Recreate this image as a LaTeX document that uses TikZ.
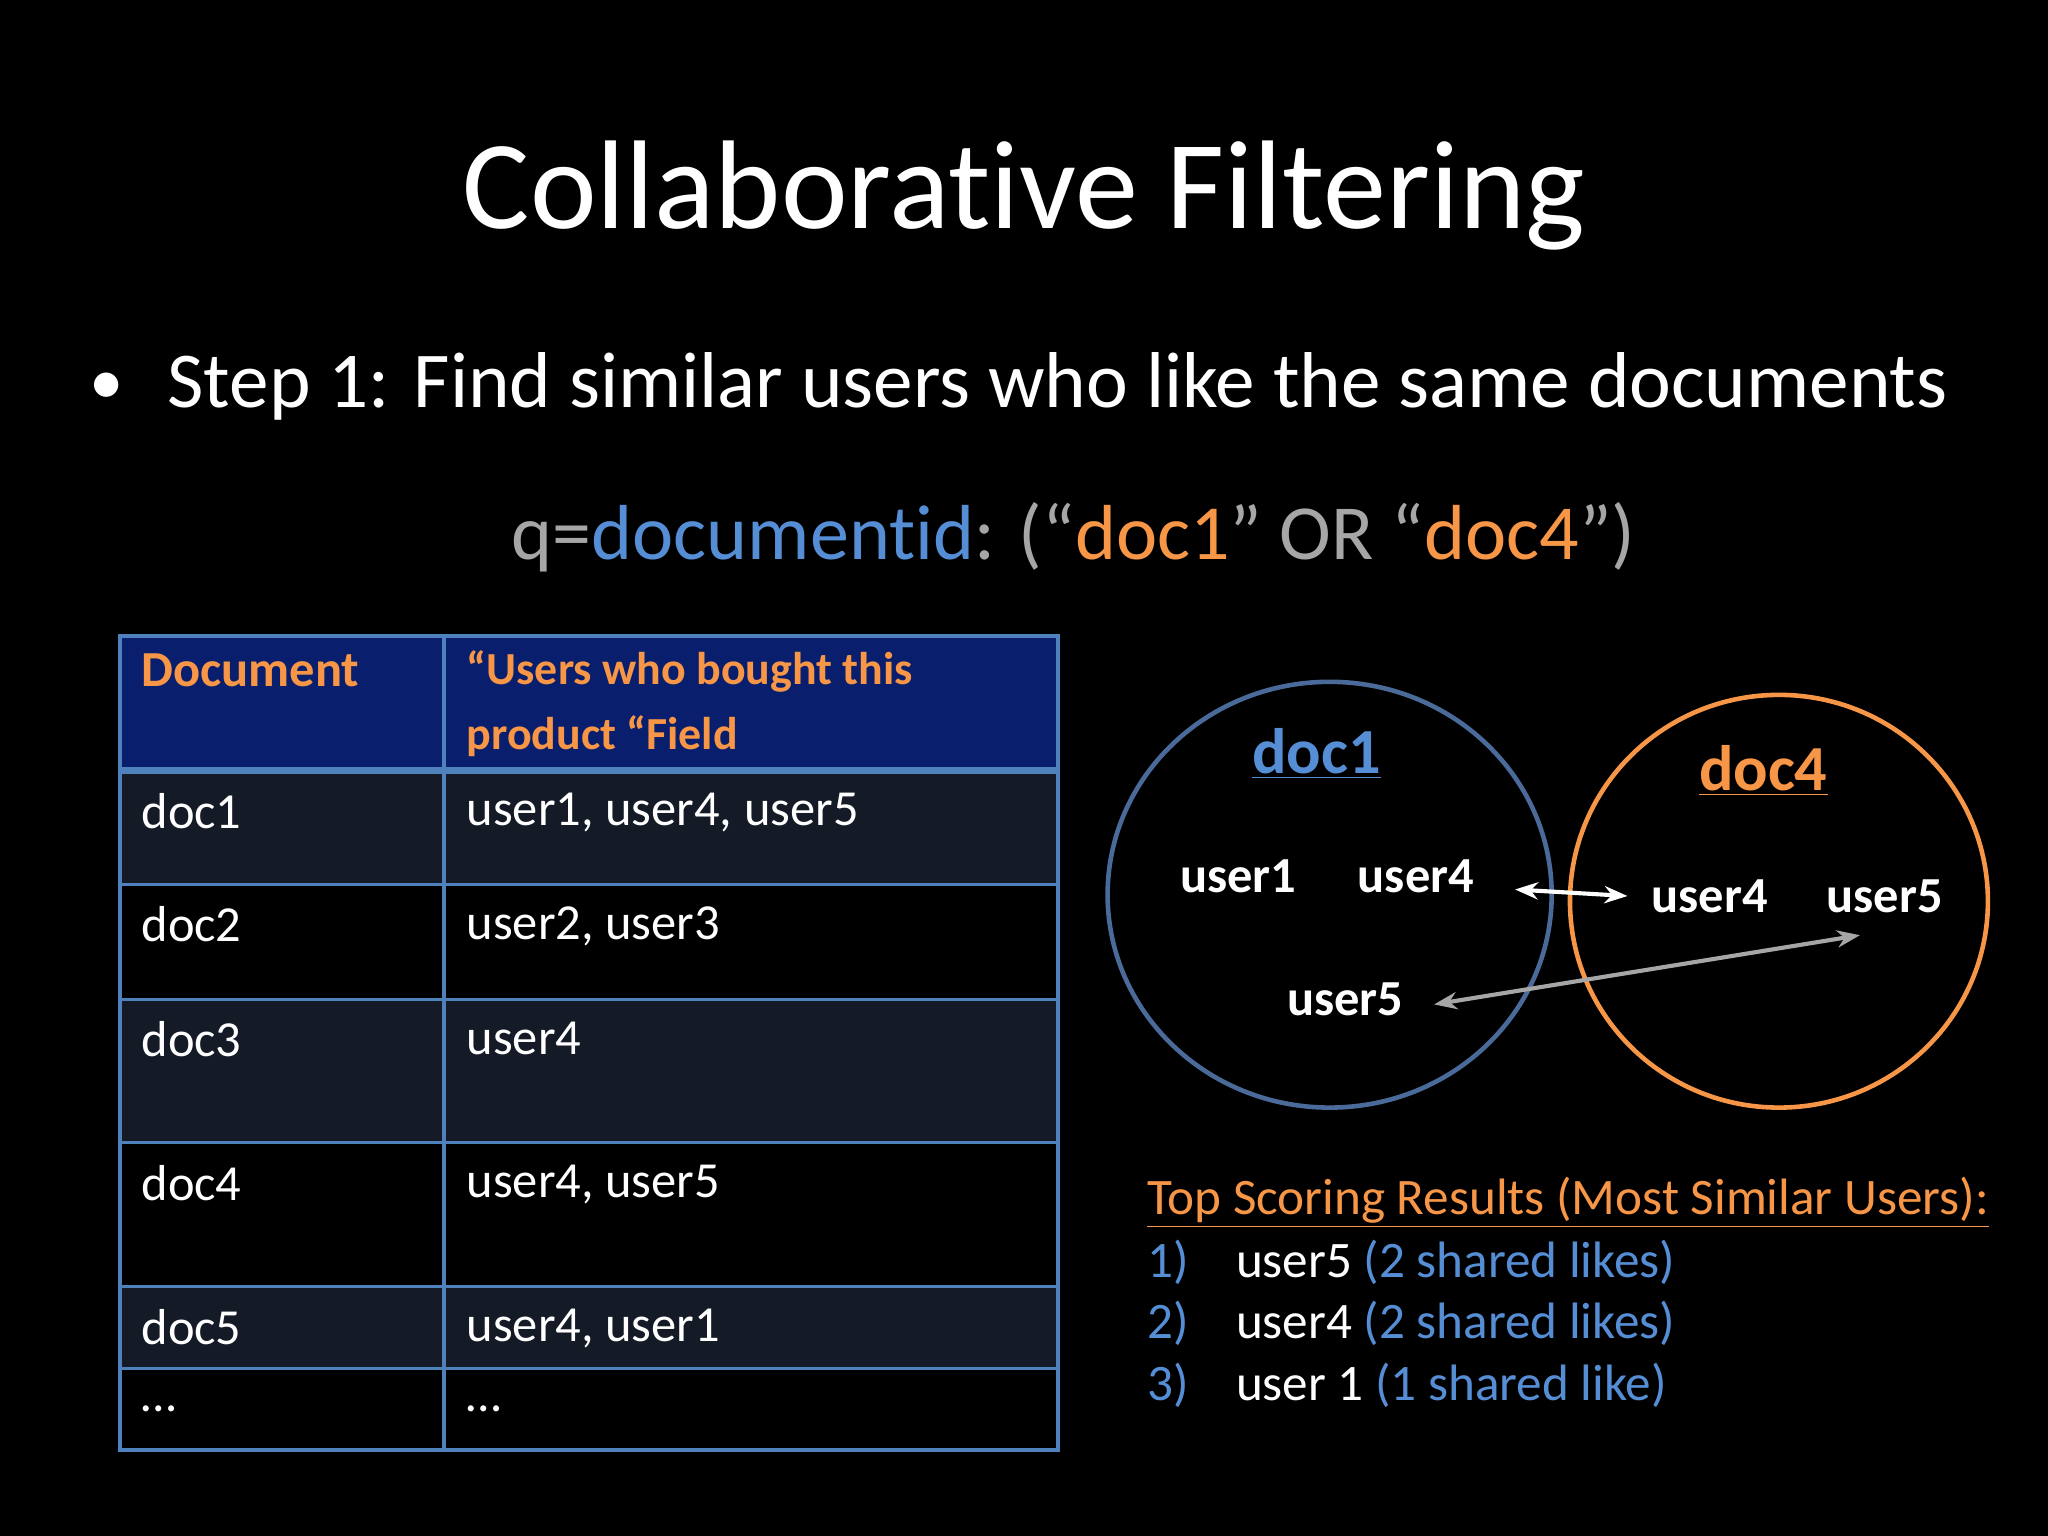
\documentclass[tikz,border=0pt]{standalone}
\usepackage{fontspec}
\setmainfont{Carlito}[Ligatures={NoCommon}]
\usetikzlibrary{arrows.meta}
\definecolor{qgray}{HTML}{A6A6A6}
\definecolor{qblue}{HTML}{558ED5}
\definecolor{qorange}{HTML}{F79646}
\definecolor{tline}{HTML}{4F81BD}
\definecolor{thead}{HTML}{0A1E6E}
\definecolor{tdark}{HTML}{141B27}
\definecolor{cblue}{HTML}{4A6A9A}
\tikzset{
  cell/.style={anchor=north west,text=white,font=\fontsize{22}{26}\selectfont,inner sep=0pt},
  hcell/.style={anchor=north west,text=qorange,font=\fontsize{20}{28}\selectfont\bfseries,inner sep=0pt,align=left},
  usr/.style={text=white,font=\fontsize{22}{26}\selectfont\bfseries},
  res/.style={anchor=base west,font=\fontsize{22.3}{26}\selectfont,inner sep=0pt},
}
\begin{document}
\begin{tikzpicture}[x=0.02cm,y=-0.02cm]
\fill[black] (0,0) rectangle (1568,1176);
\useasboundingbox (0,0) rectangle (1568,1176);
\node[text=white,font=\fontsize{55}{64}\selectfont] (title) at (784,150) {Collaborative Filtering};
\node[text=white,font=\fontsize{30}{40}\selectfont,anchor=base west,inner sep=0pt] (bl) at (68,310) {•};
\node[text=white,font=\fontsize{34.5}{40}\selectfont,anchor=base west,inner sep=0pt] (b) at (128,312) {Step 1: Find similar users who like the same documents};
\node[font=\fontsize{34}{40}\selectfont,anchor=base,inner sep=0pt] (q) at (822,428) {\textcolor{qgray}{q=}\textcolor{qblue}{documentid}\textcolor{qgray}{: (“}\textcolor{qorange}{doc1}\textcolor{qgray}{” OR “}\textcolor{qorange}{doc4}\textcolor{qgray}{”)}};
% table
\fill[thead] (92,487) rectangle (810,590);
\fill[tdark] (92,590) rectangle (810,677);
\fill[tdark] (92,765) rectangle (810,875);
\fill[tdark] (92,985) rectangle (810,1048);
\draw[tline,line width=1.5pt] (92,487) rectangle (810,1110);
\draw[tline,line width=1.5pt] (340,487) -- (340,1110);
\foreach \yy in {677,765,875,985,1048} \draw[tline,line width=1.2pt] (92,\yy) -- (810,\yy);
\draw[tline,line width=3pt] (92,590) -- (810,590);
\node[hcell,font=\fontsize{22}{28}\selectfont\bfseries] (h1) at (108,500) {Document};
\node[hcell] (h2) at (357,498) {“Users who bought this\\product “Field};
\node[cell] (r1a) at (108,607) {doc1}; \node[cell] (r1b) at (357,607) {user1, user4, user5};
\node[cell] (r2a) at (108,694) {doc2}; \node[cell] (r2b) at (357,694) {user2, user3};
\node[cell] (r3a) at (108,782) {doc3}; \node[cell] (r3b) at (357,782) {user4};
\node[cell] (r4a) at (108,892) {doc4}; \node[cell] (r4b) at (357,892) {user4, user5};
\node[cell] (r5a) at (108,1002) {doc5}; \node[cell] (r5b) at (357,1002) {user4, user1};
\node[cell] (r6a) at (108,1076) {…}; \node[cell] (r6b) at (357,1076) {…};
% circles
\draw[cblue,line width=2pt] (1018,685) ellipse (170 and 163);
\draw[qorange,line width=2pt] (1362,690) ellipse (160 and 158);
\node[text=qblue,font=\fontsize{28}{30}\selectfont\bfseries] (d1) at (1008,577) {\underline{doc1}};
\node[text=qorange,font=\fontsize{28}{30}\selectfont\bfseries] (d4) at (1350,590) {\underline{doc4}};
\node[usr] (u1) at (948,671) {user1};
\node[usr] (u4a) at (1084,671) {user4};
\node[usr] (u4b) at (1309,686) {user4};
\node[usr] (u5b) at (1443,686) {user5};
\node[usr] (u5a) at (1030,765) {user5};
\coordinate (a1) at (1160,681); \coordinate (a2) at (1246,686);
\draw[white,line width=1.8pt,{Stealth[length=10pt]}-{Stealth[length=10pt]}] (a1) -- (a2);
\coordinate (g1) at (1098,769); \coordinate (g2) at (1424,716);
\draw[qgray,line width=1.8pt,{Stealth[length=10pt]}-{Stealth[length=10pt]}] (g1) -- (g2);
% results
\node[res,text=qorange] (rt) at (878,930) {\underline{Top Scoring Results (Most Similar Users):}};
\node[res,text=qblue] (n1) at (878,978) {1)}; \node[res] (t1) at (946,978) {\textcolor{white}{user5} \textcolor{qblue}{(2 shared likes)}};
\node[res,text=qblue] (n2) at (878,1025) {2)}; \node[res] (t2) at (946,1025) {\textcolor{white}{user4} \textcolor{qblue}{(2 shared likes)}};
\node[res,text=qblue] (n3) at (878,1072) {3)}; \node[res] (t3) at (946,1072) {\textcolor{white}{user 1} \textcolor{qblue}{(1 shared like)}};
\end{tikzpicture}
\end{document}
